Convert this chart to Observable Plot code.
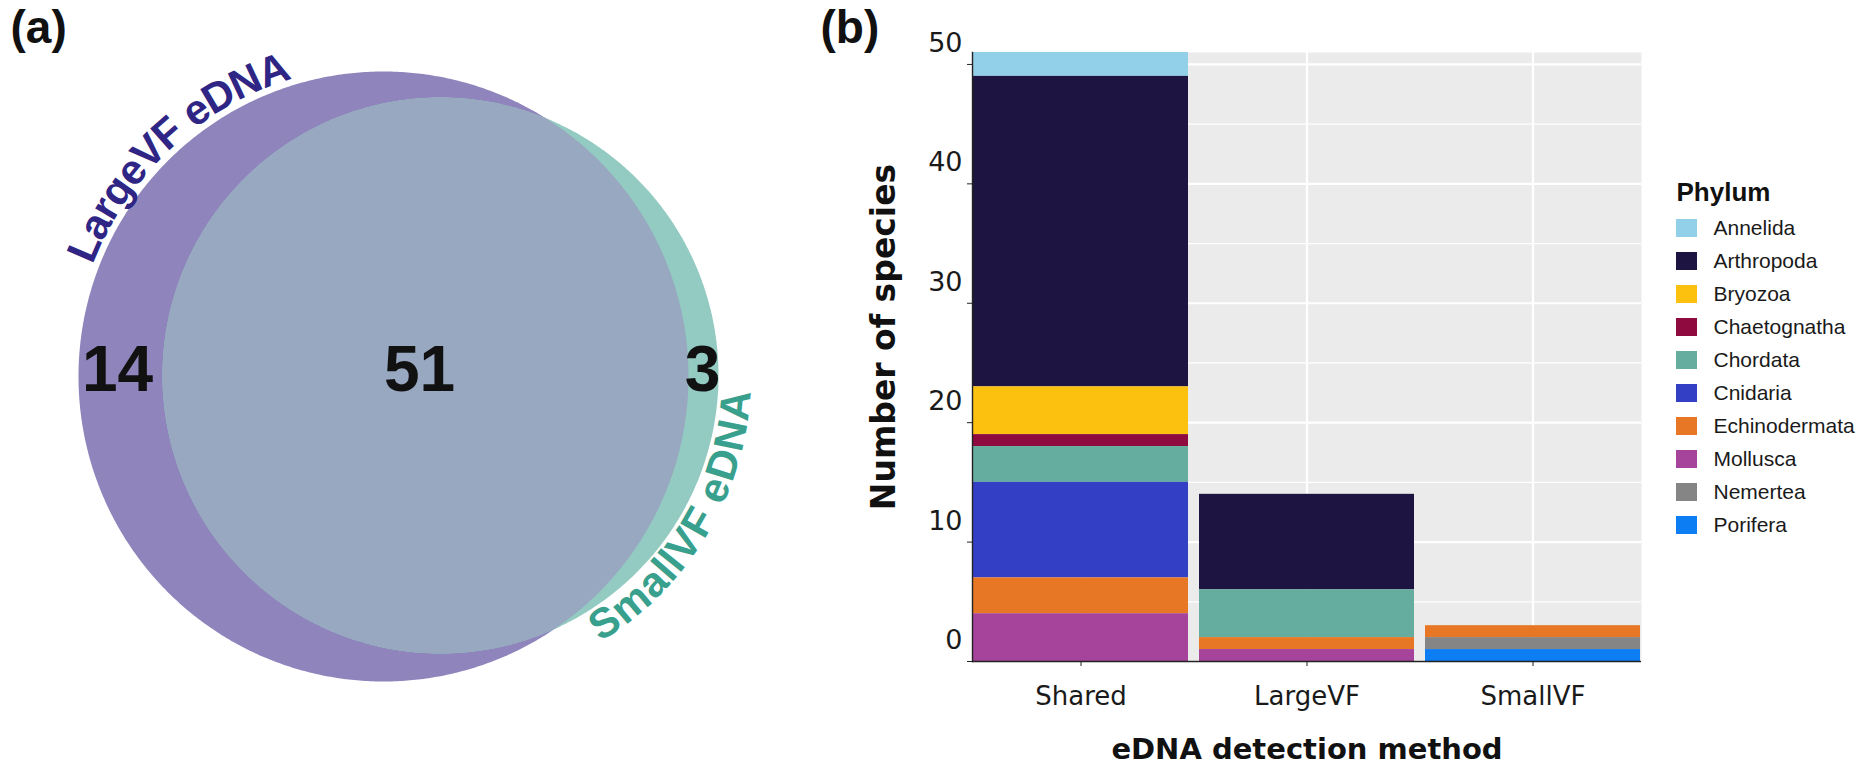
<!DOCTYPE html>
<html><head><meta charset="utf-8">
<script src="https://cdn.jsdelivr.net/npm/d3@7"></script>
<script src="https://cdn.jsdelivr.net/npm/@observablehq/plot@0.6"></script>
<style>
body{margin:0;background:#fff;}
#root{position:relative;width:1869px;height:764px;overflow:hidden;background:#fff;}
#root > div{position:absolute;}
</style></head><body>
<div id="root">
  <div id="venn" style="left:0;top:0;width:800px;height:764px"></div>
  <div id="bars" style="left:800px;top:0;width:1069px;height:764px"></div>
  <div id="legend" style="left:1660px;top:160px;width:209px;height:390px"></div>
</div>
<script>
// ---------- data ----------
const vennSetNames = ["LargeVF eDNA", "SmallVF eDNA"];
const vennRegionCounts = [14, 51, 3]; // LargeVF only, both, SmallVF only

const methods = ["Shared", "LargeVF", "SmallVF"];
const phyla = ["Annelida","Arthropoda","Bryozoa","Chaetognatha","Chordata","Cnidaria","Echinodermata","Mollusca","Nemertea","Porifera"];
const sharedCounts  = [2, 26, 4, 1, 3, 8, 3, 4, 0, 0];
const largeVFCounts = [0,  8, 0, 0, 4, 0, 1, 1, 0, 0];
const smallVFCounts = [0,  0, 0, 0, 0, 0, 1, 0, 1, 1];
const phylumColors = ["#92d0ea","#1d1442","#fbc10e","#8f0a3f","#64ad9f","#3340c6","#e77724","#a5449a","#858585","#0c7df2"];
const yTicks = [0, 10, 20, 30, 40, 50];
const yMinorTicks = [5, 15, 25, 35, 45];

// ---------- fonts / colours ----------
const sans = "'Liberation Sans', Arial, Helvetica, sans-serif";
const axisFont = "'DejaVu Sans', sans-serif";
const ink = "#1a1a1a";

// ---------- Venn (panel a) ----------
const vennGeom = {
  large: {cx: 383, cy: 376, r: 305, fill: "#8f84bb", label: "#2e2585"},
  small: {cx: 440, cy: 375, r: 278, fill: "#93cbc2", label: "#38a08c"},
  both: "#98a8c0"
};
function circlePts(c, step = 0.5) {
  return d3.range(0, 360, step).map(a => {
    const t = a * Math.PI / 180;
    return {x: c.cx + c.r * Math.cos(t), y: c.cy + c.r * Math.sin(t)};
  });
}
const inside = (p, c) => (p.x - c.cx) ** 2 + (p.y - c.cy) ** 2 <= c.r ** 2 + 1e-6;
const L = vennGeom.large, S = vennGeom.small;
const lens = [...circlePts(S).filter(p => inside(p, L)), ...circlePts(L).filter(p => inside(p, S))]
  .sort((a, b) => Math.atan2(a.y - S.cy, a.x - S.cx) - Math.atan2(b.y - S.cy, b.x - S.cx));

const canvas = document.createElement("canvas");
const ctx = canvas.getContext("2d");
const labelSize = 42;
function arcChars(text, c, R, midDeg, dir) {
  ctx.font = `bold ${labelSize}px 'Liberation Sans'`;
  const chars = [...text];
  const widths = chars.map(ch => ctx.measureText(ch).width);
  const total = d3.sum(widths);
  let s = -total / 2;
  return chars.map((ch, i) => {
    const sc = s + widths[i] / 2; s += widths[i];
    const th = midDeg * Math.PI / 180 + dir * sc / R;
    return {ch, x: c.cx + R * Math.cos(th), y: c.cy + R * Math.sin(th), rot: th * 180 / Math.PI + (dir > 0 ? 90 : -90)};
  });
}
const largeChars = arcChars(vennSetNames[0], L, L.r + 20, 227, 1);
const smallChars = arcChars(vennSetNames[1], S, S.r + 19, 31, -1);

const countPos = [
  {x: ((L.cx - L.r) + (S.cx - S.r)) / 2 - 3, y: L.cy - 6, n: vennRegionCounts[0]},
  {x: ((S.cx - S.r) + (L.cx + L.r)) / 2 - 6, y: L.cy - 6, n: vennRegionCounts[1]},
  {x: ((L.cx + L.r) + (S.cx + S.r)) / 2 - 1, y: L.cy - 6, n: vennRegionCounts[2]}
];

const venn = Plot.plot({
  width: 800, height: 764, margin: 0,
  x: {domain: [0, 800], range: [0, 800], axis: null},
  y: {domain: [0, 764], range: [0, 764], axis: null},
  style: {fontFamily: sans, background: "transparent", overflow: "visible"},
  marks: [
    Plot.line(circlePts(L), {x: "x", y: "y", fill: L.fill, stroke: null, curve: "linear-closed"}),
    Plot.line(circlePts(S), {x: "x", y: "y", fill: S.fill, stroke: null, curve: "linear-closed"}),
    Plot.line(lens, {x: "x", y: "y", fill: vennGeom.both, stroke: null, curve: "linear-closed"}),
    Plot.text(largeChars, {x: "x", y: "y", text: "ch", rotate: "rot", fontSize: labelSize, fontWeight: "bold", fill: L.label, lineAnchor: "middle", textAnchor: "middle"}),
    Plot.text(smallChars, {x: "x", y: "y", text: "ch", rotate: "rot", fontSize: labelSize, fontWeight: "bold", fill: S.label, lineAnchor: "middle", textAnchor: "middle"}),
    Plot.text(countPos, {x: "x", y: "y", text: d => String(d.n), fontSize: 64, fontWeight: "bold", fill: "#111", lineAnchor: "middle", textAnchor: "middle"}),
    Plot.text(["(a)"], {frameAnchor: "top-left", dx: 10, dy: 42, lineAnchor: "bottom", textAnchor: "start", fontSize: 46, fontWeight: "bold", fill: "#111"})
  ]
});
document.getElementById("venn").append(venn);

// ---------- stacked bars (panel b) ----------
const countsByMethod = {Shared: sharedCounts, LargeVF: largeVFCounts, SmallVF: smallVFCounts};
const barData = methods.flatMap(m => phyla.map((p, i) => ({method: m, phylum: p, count: countsByMethod[m][i]})))
  .filter(d => d.count > 0);
const stackOrder = phyla.slice().reverse();

const bars = Plot.plot({
  width: 1069, height: 764,
  marginLeft: 172, marginRight: 228, marginTop: 52, marginBottom: 103,
  x: {type: "band", domain: methods, paddingInner: 0.05, paddingOuter: 0, align: 0.5},
  y: {domain: [0, 51], nice: false},
  color: {domain: phyla, range: phylumColors},
  style: {fontFamily: axisFont, background: "transparent", overflow: "visible", color: ink},
  marks: [
    Plot.frame({fill: "#ebebeb", stroke: null}),
    Plot.gridY(yMinorTicks, {stroke: "white", strokeOpacity: 1, strokeWidth: 1.2}),
    Plot.gridY(yTicks, {stroke: "white", strokeOpacity: 1, strokeWidth: 2.2}),
    Plot.gridX({stroke: "white", strokeOpacity: 1, strokeWidth: 2.2}),
    Plot.barY(barData, {x: "method", y: "count", fill: "phylum", order: stackOrder}),
    Plot.ruleY([0], {stroke: "#222", strokeWidth: 1.6}),
    Plot.frame({anchor: "left", stroke: "#222", strokeWidth: 1.4}),
    Plot.axisX({tickSize: 5, tickPadding: 20, fontSize: 26, label: null, stroke: "#222", fill: ink}),
    Plot.axisY({ticks: yTicks, tickSize: 5, tickFormat: () => "", label: null, stroke: "#222"}),
    Plot.axisY({ticks: yTicks, tickSize: 0, tickPadding: 10, dy: -21, fontSize: 27, label: null, fill: ink}),
    Plot.text(["Number of species"], {frameAnchor: "left", rotate: -90, dx: -88, dy: -20, fontSize: 33, fontWeight: "bold", fill: "#111", lineAnchor: "middle", textAnchor: "middle"}),
    Plot.text(["eDNA detection method"], {frameAnchor: "bottom", dy: 97, lineAnchor: "bottom", fontSize: 29, fontWeight: "bold", fill: "#111"}),
    Plot.text(["(b)"], {frameAnchor: "top-left", dx: -152, dy: -10, lineAnchor: "bottom", textAnchor: "start", fontSize: 46, fontWeight: "bold", fill: "#111", fontFamily: sans})
  ]
});
document.getElementById("bars").append(bars);

// ---------- legend ----------
const legend = Plot.plot({
  width: 209, height: 390, margin: 0,
  x: {type: "band", domain: ["key"], range: [16, 37], padding: 0, axis: null},
  y: {type: "band", domain: phyla, range: [50.45, 381.55], paddingInner: 0.456, paddingOuter: 0.228, axis: null},
  color: {domain: phyla, range: phylumColors},
  style: {fontFamily: sans, background: "transparent", overflow: "visible"},
  marks: [
    Plot.cell(phyla, {x: () => "key", y: d => d, fill: d => d}),
    Plot.text(phyla, {x: () => "key", y: d => d, text: d => d, dx: 26.5, textAnchor: "start", fontSize: 21, fill: ink}),
    Plot.text(["Phylum"], {frameAnchor: "top-left", dx: 16, dy: 40, lineAnchor: "bottom", textAnchor: "start", fontSize: 26, fontWeight: "bold", fill: "#111"})
  ]
});
document.getElementById("legend").append(legend);
</script>
</body></html>
